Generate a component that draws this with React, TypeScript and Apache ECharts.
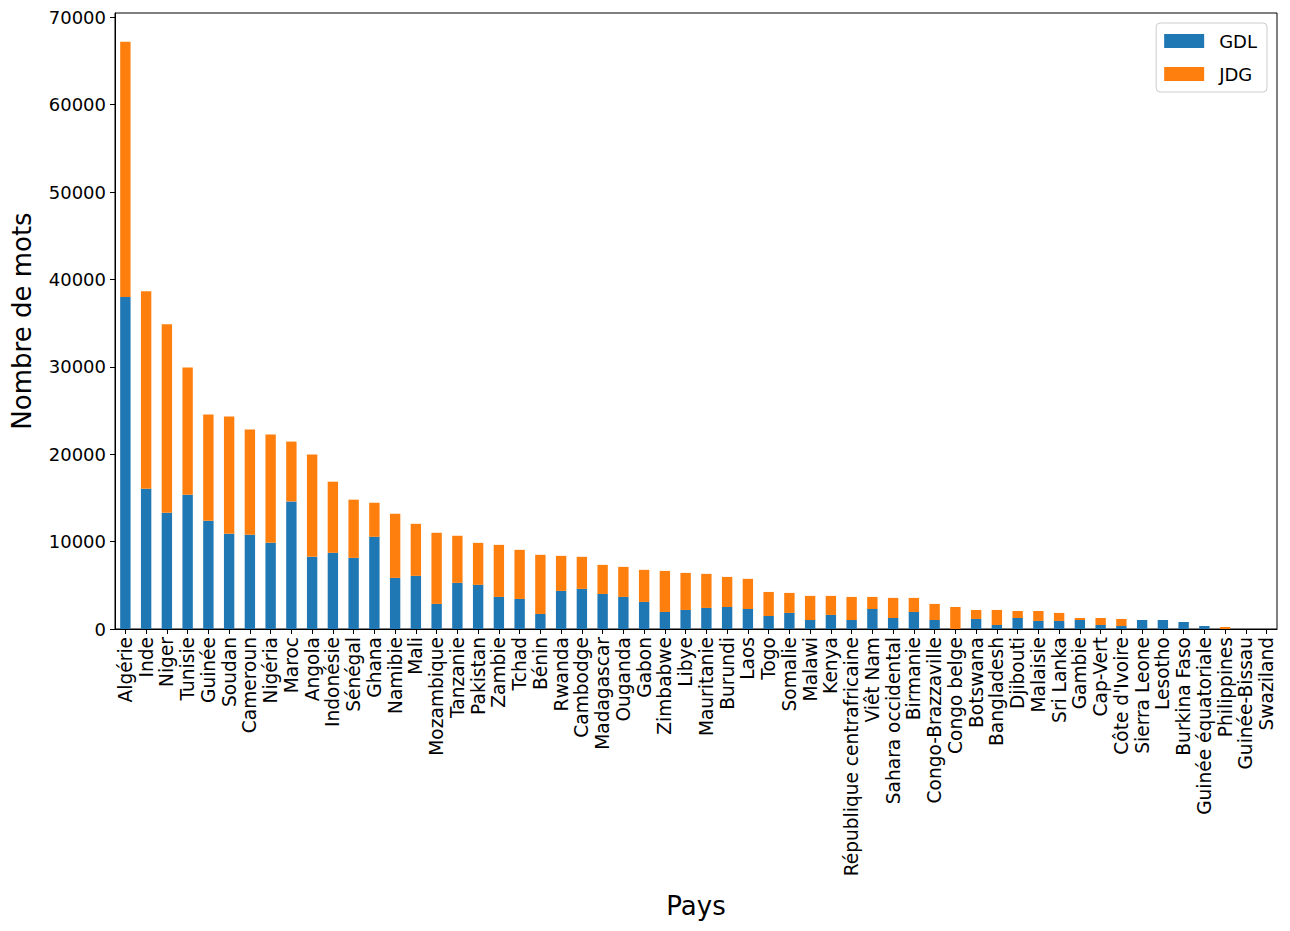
import React, { useEffect, useRef } from "react";
import * as echarts from "echarts";

const categories = [
  "Algérie", "Inde", "Niger", "Tunisie", "Guinée", "Soudan", "Cameroun", "Nigéria", "Maroc", "Angola",
  "Indonésie", "Sénégal", "Ghana", "Namibie", "Mali", "Mozambique", "Tanzanie", "Pakistan", "Zambie", "Tchad",
  "Bénin", "Rwanda", "Cambodge", "Madagascar", "Ouganda", "Gabon", "Zimbabwe", "Libye", "Mauritanie", "Burundi",
  "Laos", "Togo", "Somalie", "Malawi", "Kenya", "République centrafricaine", "Viêt Nam", "Sahara occidental", "Birmanie", "Congo-Brazzaville",
  "Congo belge", "Botswana", "Bangladesh", "Djibouti", "Malaisie", "Sri Lanka", "Gambie", "Cap-Vert", "Côte d'Ivoire", "Sierra Leone",
  "Lesotho", "Burkina Faso", "Guinée équatoriale", "Philippines", "Guinée-Bissau", "Swaziland",
];

const gdl = [
  38000, 16060, 13300, 15370, 12390, 10900, 10780, 9860, 14600, 8260,
  8720, 8140, 10550, 5850, 6080, 2870, 5280, 5050, 3670, 3440,
  1720, 4360, 4590, 4010, 3670, 3100, 1950, 2180, 2410, 2520,
  2290, 1490, 1840, 1030, 1610, 1030, 2290, 1260, 1950, 1030,
  0, 1150, 460, 1260, 920, 920, 1030, 460, 340, 1030,
  1030, 800, 340, 0, 0, 0,
];

const jdg = [
  29200, 22590, 21570, 14570, 12160, 13420, 12050, 12390, 6850, 11700,
  8140, 6660, 3900, 7340, 5960, 8140, 5390, 4810, 5960, 5620,
  6770, 4010, 3670, 3330, 3440, 3670, 4700, 4240, 3900, 3440,
  3450, 2750, 2290, 2760, 2180, 2640, 1380, 2300, 1610, 1840,
  2520, 1030, 1720, 800, 1140, 920, 230, 800, 810, 0,
  0, 0, 0, 230, 0, 0,
];

const yTicks = { min: 0, max: 70500, interval: 10000 };

const FONT = "DejaVu Sans";

export default function App() {
  const ref = useRef<HTMLDivElement>(null);
  useEffect(() => {
    if (!ref.current) return;
    const chart = echarts.init(ref.current, undefined, { renderer: "svg" });
    chart.setOption({
      animation: false,
      textStyle: { fontFamily: FONT, color: "#000" },
      color: ["#1f77b4", "#ff7f0e"],
      grid: {
        left: 115,
        right: 13,
        top: 13,
        bottom: 302,
        show: true,
        borderColor: "#000",
        borderWidth: 1,
        containLabel: false,
      },
      legend: {
        orient: "vertical",
        right: 23,
        top: 23,
        data: ["GDL", "JDG"],
        icon: "rect",
        itemWidth: 40,
        itemHeight: 14,
        itemGap: 15,
        padding: [9, 10, 9, 8],
        borderColor: "#cccccc",
        borderWidth: 1,
        borderRadius: 4,
        textStyle: { fontFamily: FONT, fontSize: 18, color: "#000", padding: [0, 0, 0, 10] },
      },
      xAxis: {
        type: "category",
        data: categories,
        name: "Pays",
        nameLocation: "middle",
        nameGap: 264,
        nameTextStyle: { fontFamily: FONT, fontSize: 26, color: "#000" },
        axisLine: { show: true, lineStyle: { color: "#000", width: 1 } },
        axisTick: { show: true, alignWithLabel: true, length: 5, lineStyle: { color: "#000" } },
        axisLabel: {
          interval: 0,
          rotate: 90,
          fontFamily: FONT,
          fontSize: 18.6,
          color: "#000",
          margin: 8,
        },
        splitLine: { show: false },
      },
      yAxis: {
        type: "value",
        min: yTicks.min,
        max: yTicks.max,
        interval: yTicks.interval,
        name: "Nombre de mots",
        nameLocation: "middle",
        nameGap: 80,
        nameTextStyle: { fontFamily: FONT, fontSize: 26, color: "#000" },
        axisLine: { show: true, lineStyle: { color: "#000", width: 1 } },
        axisTick: { show: true, length: 5, lineStyle: { color: "#000" } },
        axisLabel: {
          fontFamily: FONT,
          fontSize: 18,
          color: "#000",
          margin: 9,
          showMaxLabel: false,
          formatter: (v: number) => String(v),
        },
        splitLine: { show: false },
      },
      series: [
        { name: "GDL", type: "bar", stack: "total", data: gdl, barWidth: "50%" },
        { name: "JDG", type: "bar", stack: "total", data: jdg, barWidth: "50%" },
      ],
    });
    return () => chart.dispose();
  }, []);
  return <div ref={ref} style={{ width: 1290, height: 931, position: "absolute", left: 0, top: 0, background: "#fff" }} />;
}
